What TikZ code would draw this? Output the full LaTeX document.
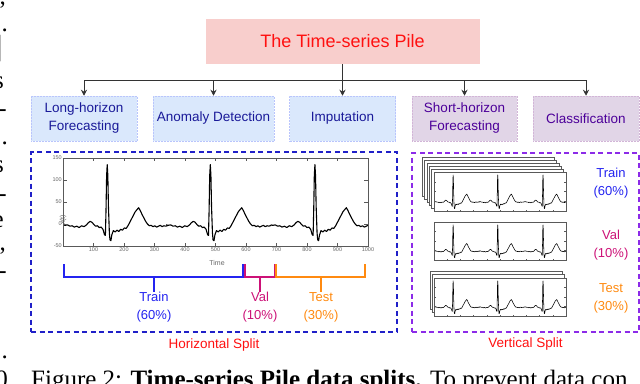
\documentclass[tikz,border=0pt]{standalone}
\usepackage{fontspec}
\setmainfont{Liberation Serif}
\newfontfamily\diagfont{Liberation Sans}
\usetikzlibrary{arrows.meta,calc,positioning}

\definecolor{pilered}{HTML}{FF1010}
\definecolor{pilefill}{HTML}{F8CECC}
\definecolor{taskblue}{HTML}{DAE8FC}
\definecolor{taskbluetext}{HTML}{1A1A99}
\definecolor{taskpurple}{HTML}{E1D5E7}
\definecolor{taskpurpletext}{HTML}{4C0099}
\definecolor{splitblue}{HTML}{2020C8}
\definecolor{splitviolet}{HTML}{8C2BE8}
\definecolor{trainblue}{HTML}{2424F0}
\definecolor{valpink}{HTML}{CC1177}
\definecolor{testorange}{HTML}{FF8A10}

\tikzset{
  titlebox/.style={fill=pilefill, minimum width=274pt, minimum height=45pt, inner sep=0pt,
    text=pilered, font=\diagfont\fontsize{18}{20}\selectfont},
  taskbox/.style={minimum width=106pt, minimum height=45pt, inner sep=0pt, align=center,
    line width=0.5pt, densely dotted, font=\diagfont\fontsize{13.5}{18}\selectfont},
  bluetask/.style={taskbox, fill=taskblue, draw=taskblue!85!blue, text=taskbluetext},
  purpletask/.style={taskbox, fill=taskpurple, draw=taskpurple!85!violet, text=taskpurpletext},
  flowarrow/.style={draw=black!80, line width=0.9pt, -{Stealth[length=6pt,width=6pt]}},
  splitframe/.style={draw, line width=1.4pt, dash pattern=on 5pt off 3.5pt, inner sep=0pt},
  splitname/.style={text=pilered, inner sep=0pt, font=\diagfont\fontsize{13.5}{16}\selectfont},
  splitlabel/.style={align=center, inner sep=0pt, font=\diagfont\fontsize{13}{18}\selectfont},
  bracket/.style={line width=1.5pt},
  axisline/.style={draw=black!65, line width=0.4pt},
  ticklabel/.style={text=black!60, inner sep=1pt, font=\diagfont\fontsize{5.5}{6}\selectfont},
  ecgline/.style={line width=1pt, line join=round, black},
  frag/.style={anchor=base east, inner sep=0pt, font=\fontsize{25}{25}\selectfont},
  % one heart beat, R peak at t=0
  ecgbeat/.pic={
    \draw[ecgline] (-145,-2) -- (-138,-3) -- (-130,-2) -- (-122,-5) -- (-115,-4) -- (-108,-7)
      -- (-100,-5) -- (-92,-8) -- (-84,-4) -- (-76,-6) -- (-68,-2) -- (-62,3) -- (-56,6)
      -- (-50,4) -- (-44,-1) -- (-38,-5) -- (-32,-4) -- (-26,-8) -- (-20,-7) -- (-14,-12)
      -- (-9,-24) -- (-6,-26) -- (-4,30) -- (-2,110) -- (0,135) -- (2,110) -- (4,40)
      -- (7,-20) -- (9,-36) -- (12,-38) -- (15,-25) -- (20,-15) -- (26,-18) -- (32,-14)
      -- (38,-17) -- (44,-12) -- (50,-14) -- (56,-9) -- (62,-10) -- (68,-4) -- (74,4)
      -- (80,12) -- (86,20) -- (92,28) -- (98,33) -- (103,37) -- (108,31) -- (114,22)
      -- (120,14) -- (126,6) -- (132,0) -- (138,-4) -- (144,-3) -- (150,-6) -- (156,-4)
      -- (162,-7) -- (168,-5) -- (174,-3) -- (180,-6) -- (186,-4) -- (192,-5) -- (200,-3);
  },
  % framed plot, t in [0,1000], x(t) in [-50,150]
  ecgpanel/.pic={
    \fill[white] (0,-50) rectangle (1000,150);
    \begin{scope}
      \clip (0,-50) rectangle (1000,150);
      \foreach \r in {145,483,826} \pic at (\r,0) {ecgbeat};
    \end{scope}
    \draw[axisline] (0,-50) rectangle (1000,150);
    \foreach \t in {100,200,...,900}
      \draw[axisline] (\t,-50) -- ++(0,6) (\t,150) -- ++(0,-6);
    \foreach \v in {0,50,100}
      \draw[axisline] (0,\v) -- ++(12,0) (1000,\v) -- ++(-12,0);
  }
}

\begin{document}
\begin{tikzpicture}[x=1pt, y=-1pt]

% Page
\useasboundingbox (0,0) rectangle (640,383);
\clip (0,0) rectangle (640,383);

% Title and tasks
\node[titlebox] (pile) at (342.5,41.5) {The Time-series Pile};

\node[bluetask] (lhf) at (84,118.5) {Long-horizon\\Forecasting};
\node[bluetask, minimum width=121pt] (anom) at (213.5,118.5) {Anomaly Detection};
\node[bluetask] (imput) at (342.5,118.5) {Imputation};
\node[purpletask, minimum width=105pt] (shf) at (464.5,118.5) {Short-horizon\\Forecasting};
\node[purpletask] (clsf) at (586,118.5) {Classification};

% Arrows
\draw[flowarrow] (pile.south) -- (imput.north);
\draw[flowarrow] (pile.south) -- ++(0,16) -| (lhf.north);
\draw[flowarrow] (pile.south) -- ++(0,16) -| (anom.north);
\draw[flowarrow] (pile.south) -- ++(0,16) -| (shf.north);
\draw[flowarrow] (pile.south) -- ++(0,16) -| (clsf.north);

% Split frames
\node[splitframe, draw=splitblue, minimum width=366pt, minimum height=180pt] (hbox) at (214,242) {};
\node[splitframe, draw=splitviolet, minimum width=227pt, minimum height=179pt] (vbox) at (525.5,242.5) {};
\node[splitname, below=6pt of hbox] (hname) {Horizontal Split};
\node[splitname, below=5pt of vbox] (vname) {Vertical Split};

% Horizontal split: long series
\begin{scope}[shift={(63,224)}, x=0.305pt, y=0.44pt, ecgline/.style={line width=1.1pt, line join=round}]
  \pic {ecgpanel};
  \foreach \t in {100,200,...,1000}
    \node[ticklabel, below] at (\t,-50) {\t};
  \foreach \v in {-50,0,50,100,150}
    \node[ticklabel, left] at (0,\v) {\v};
  \node[ticklabel, font=\diagfont\fontsize{7}{8}\selectfont] at (505,-50) [yshift=-17pt] {Time};
  \node[ticklabel, font=\diagfont\fontsize{7}{8}\selectfont, rotate=90] at (0,55) [xshift=-20pt] {x(t)};
\end{scope}

% Brackets
\coordinate (trmid) at (154,277);
\coordinate (vamid) at (260,277);
\coordinate (temid) at (321,277);
\draw[bracket, trainblue] (64,264) -- (64,277) -- (243,277) -- (243,264);
\draw[bracket, valpink] (245,264) -- (245,277) -- (275,277) -- (275,264);
\draw[bracket, testorange] (276,264) -- (276,277) -- (365,277) -- (365,264);

\node[splitlabel, text=trainblue] (trainh) at (154,307) {Train\\(60\%)};
\node[splitlabel, text=valpink] (valh) at (260,307) {Val\\(10\%)};
\node[splitlabel, text=testorange] (testh) at (321,307) {Test\\(30\%)};
\draw[bracket, trainblue] (trmid) -- (trainh.north);
\draw[bracket, valpink] (vamid) -- (valh.north);
\draw[bracket, testorange] (temid) -- (testh.north);

% Vertical split: stacked series
\foreach \i in {5,4,...,1}
  \draw[axisline, fill=white] ($(434,172)+(-2.4*\i,-3*\i)$) rectangle ++(132,39);
\begin{scope}[shift={(434,201.25)}, x=0.132pt, y=0.195pt, ecgline/.style={line width=0.55pt, line join=round}]
  \pic {ecgpanel};
\end{scope}

\begin{scope}[shift={(434,250.5)}, x=0.132pt, y=0.19pt, ecgline/.style={line width=0.55pt, line join=round}]
  \pic {ecgpanel};
\end{scope}

\foreach \i in {2,1}
  \draw[axisline, fill=white] ($(434,278)+(-2*\i,-3.5*\i)$) rectangle ++(132,38);
\begin{scope}[shift={(434,306.5)}, x=0.132pt, y=0.19pt, ecgline/.style={line width=0.55pt, line join=round}]
  \pic {ecgpanel};
\end{scope}

\node[splitlabel, text=trainblue] (trainv) at (611,183.5) {Train\\(60\%)};
\node[splitlabel, text=valpink] (valv) at (611,245.5) {Val\\(10\%)};
\node[splitlabel, text=testorange] (testv) at (611,298.5) {Test\\(30\%)};

% Page text around the figure
\node[frag] at (6,4) {,};
\node[frag] at (8,31) {.};
\node[frag, font=\fontsize{32}{32}\selectfont] at (3,57) {]};
\node[frag] at (4,88) {s};
\node[frag] at (7,116) {-};
\node[frag] at (8,144) {.};
\node[frag] at (4,172) {s};
\node[frag] at (7,201) {-};
\node[frag] at (4,227) {e};
\node[frag] at (6,250) {,};
\node[frag] at (7,278) {-};
\node[frag] at (8,358) {.};
\node[frag] at (8,387.5) {0};
\node[anchor=base west, inner sep=0pt, font=\fontsize{25}{25}\selectfont] (caption) at (31,387.5)
  {Figure 2: \textbf{Time-series Pile data splits.} To prevent data con};

\end{tikzpicture}
\end{document}
